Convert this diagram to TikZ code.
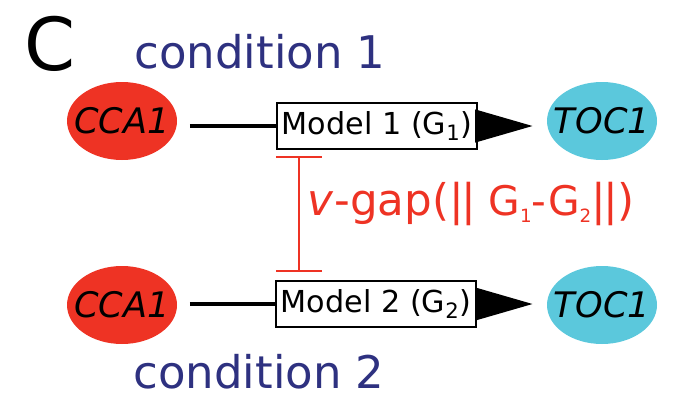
\documentclass[tikz,border=0pt]{standalone}
\usepackage{fontspec}
\setmainfont{DejaVu Sans}
\usetikzlibrary{shapes.geometric,arrows.meta}

\definecolor{genered}{RGB}{238,51,36}
\definecolor{genecyan}{RGB}{91,200,220}
\definecolor{condblue}{RGB}{46,49,128}

\newcommand{\gsub}[1]{\raisebox{-5pt}{\fontsize{13}{13}\selectfont #1}}

\begin{document}
\begin{tikzpicture}[x=0.025cm,y=-0.025cm,
    gene/.style={ellipse,minimum width=110*0.025cm,minimum height=78*0.025cm,
      inner xsep=-10pt,inner ysep=0pt,font=\fontsize{25}{25}\selectfont\itshape},
    model/.style={draw,line width=1.6pt,fill=white,minimum width=200*0.025cm,
      minimum height=46*0.025cm,inner sep=0pt,font=\fontsize{21.5}{21.5}\selectfont},
    cond/.style={text=condblue,inner sep=0pt,font=\fontsize{32}{32}\selectfont},
    link/.style={line width=2.4pt},
    flow/.style={line width=2.4pt,-{Triangle[length=41pt,width=23pt]},shorten >=10pt}]
  \useasboundingbox (0,0) rectangle (675,395);

  % Panel letter and top condition
  \node (panel) at (50,44) {\fontsize{52}{52}\selectfont C};
  \node[cond] (cond1) at (260,52) {condition 1};

  % Condition 1 : CCA1 -> Model 1 -> TOC1
  \node[gene,fill=genered] (cca1) at (122,121) {CCA1};
  \node[gene,fill=genecyan] (toc1) at (602,121) {TOC1};
  \node[model] (m1) at (377,126) {Model 1 (G\textsubscript{1})};
  \draw[link,shorten <=9pt] (cca1.east |- m1.west) -- (m1.west);
  \draw[flow] (m1.east) -- (toc1.west |- m1.east);

  % Condition 2 : CCA1 -> Model 2 -> TOC1
  \node[gene,fill=genered] (cca2) at (122,305) {CCA1};
  \node[gene,fill=genecyan] (toc2) at (602,305) {TOC1};
  \node[model] (m2) at (376,304) {Model 2 (G\textsubscript{2})};
  \draw[link,shorten <=9pt] (cca2.east |- m2.west) -- (m2.west);
  \draw[flow] (m2.east) -- (toc2.west |- m2.east);
  \node[cond] (cond2) at (259,372) {condition 2};

  % Gap between the two models
  \coordinate (gtop) at (299,156);
  \coordinate (gbot) at (299,272);
  \draw[genered,line width=1.4pt,{Bar[width=33pt]}-{Bar[width=33pt]}] (gtop) -- (gbot);
  \node[anchor=west,text=genered,font=\fontsize{31}{31}\selectfont] (gap) at (303,204)
    {\textit{v}-gap(|\kern-2pt|{\fontsize{29}{29}\selectfont\ G\gsub{1}-G\gsub{2}}|\kern-2pt|)};
\end{tikzpicture}
\end{document}
